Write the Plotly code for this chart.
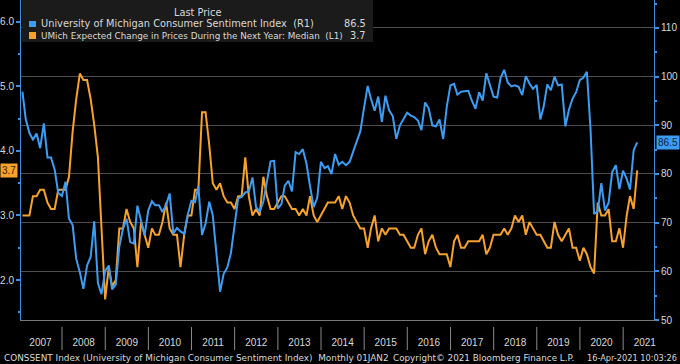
import plotly.graph_objects as go
import pandas as pd

# ---------------- data ----------------
sentiment_name = "University of Michigan Consumer Sentiment Index  (R1)"
infl_name = "UMich Expected Change in Prices During the Next Year: Median  (L1)"

sentiment = [
    96.9, 91.3, 88.4, 87.1, 88.3, 85.3, 90.4, 83.4, 83.4, 80.9, 76.1, 75.5,   # 2007
    78.4, 70.8, 69.5, 62.6, 59.8, 56.4, 61.2, 63.0, 70.3, 57.6, 55.3, 60.1,   # 2008
    61.2, 56.3, 57.3, 65.1, 68.7, 70.8, 66.0, 65.7, 73.5, 70.6, 67.4, 72.5,   # 2009
    74.4, 73.6, 73.6, 72.2, 73.6, 76.0, 67.8, 68.9, 68.2, 67.7, 71.6, 74.5,   # 2010
    74.2, 77.5, 67.5, 69.8, 74.3, 71.5, 63.7, 55.8, 59.5, 60.8, 63.7, 69.9,   # 2011
    75.0, 75.3, 76.2, 76.4, 79.3, 73.2, 72.3, 74.3, 78.3, 82.6, 82.7, 72.9,   # 2012
    73.8, 77.6, 78.6, 76.4, 84.5, 84.1, 85.1, 82.1, 77.5, 73.2, 75.1, 82.5,   # 2013
    81.2, 81.6, 80.0, 84.1, 81.9, 82.5, 81.8, 82.5, 84.6, 86.9, 88.8, 93.6,   # 2014
    98.1, 95.4, 93.0, 95.9, 90.7, 96.1, 93.1, 91.9, 87.2, 90.0, 91.3, 92.6,   # 2015
    92.0, 91.7, 91.0, 89.0, 94.7, 93.5, 90.0, 89.8, 91.2, 87.2, 93.8, 98.2,   # 2016
    98.5, 96.3, 96.9, 97.0, 97.1, 95.1, 93.4, 96.8, 95.1, 100.7, 98.5, 95.9,  # 2017
    95.7, 99.7, 101.4, 98.8, 98.0, 98.2, 97.9, 96.2, 100.1, 98.6, 97.5, 98.3, # 2018
    91.2, 93.8, 98.4, 97.2, 100.0, 98.2, 98.4, 89.8, 93.2, 95.5, 96.8, 99.3,  # 2019
    99.8, 101.0, 89.1, 71.8, 72.3, 78.1, 72.5, 74.1, 80.4, 81.8, 76.9, 80.7,  # 2020
    79.0, 76.8, 84.9, 86.5,                                                   # 2021
]

infl_exp = [
    3.0, 3.0, 3.0, 3.3, 3.3, 3.4, 3.4, 3.2, 3.1, 3.1, 3.4, 3.4,   # 2007
    3.4, 3.6, 4.3, 4.8, 5.2, 5.1, 5.1, 4.8, 4.4, 3.9, 2.8, 1.7,   # 2008
    2.2, 1.9, 2.0, 2.8, 2.8, 3.1, 2.9, 2.8, 2.2, 2.9, 2.7, 2.5,   # 2009
    2.8, 2.7, 2.7, 2.9, 3.2, 2.8, 2.7, 2.7, 2.2, 2.7, 3.0, 3.0,   # 2010
    3.4, 3.4, 4.6, 4.6, 4.1, 3.5, 3.4, 3.5, 3.3, 3.2, 3.2, 3.1,   # 2011
    3.3, 3.3, 3.9, 3.3, 3.0, 3.1, 3.0, 3.6, 3.3, 3.1, 3.1, 3.2,   # 2012
    3.3, 3.3, 3.2, 3.1, 3.1, 3.0, 3.1, 3.0, 3.3, 3.0, 2.9, 3.0,   # 2013
    3.1, 3.2, 3.2, 3.2, 3.3, 3.1, 3.3, 3.2, 3.0, 2.9, 2.8, 2.8,   # 2014
    2.5, 2.8, 3.0, 2.6, 2.8, 2.7, 2.8, 2.8, 2.8, 2.7, 2.7, 2.6,   # 2015
    2.5, 2.5, 2.7, 2.8, 2.4, 2.6, 2.7, 2.5, 2.4, 2.4, 2.4, 2.2,   # 2016
    2.6, 2.7, 2.5, 2.5, 2.6, 2.6, 2.6, 2.6, 2.7, 2.4, 2.5, 2.7,   # 2017
    2.7, 2.7, 2.8, 2.7, 2.8, 3.0, 2.9, 3.0, 2.7, 2.9, 2.8, 2.7,   # 2018
    2.7, 2.6, 2.5, 2.5, 2.9, 2.7, 2.6, 2.7, 2.8, 2.5, 2.5, 2.3,   # 2019
    2.5, 2.4, 2.2, 2.1, 3.2, 3.0, 3.0, 3.1, 2.6, 2.6, 2.8, 2.5,   # 2020
    3.0, 3.3, 3.1, 3.7,                                           # 2021
]

start_month = "2007-01-01"
years = list(range(2007, 2022))
footer_left = "CONSSENT Index (University of Michigan Consumer Sentiment Index)  Monthly 01JAN2"
footer_mid = "Copyright\u00a9 2021 Bloomberg Finance L.P."
footer_right = "16-Apr-2021 10:03:26"

# ---------------- styling ----------------
BLUE = "#3d9df3"
ORANGE = "#f7a22c"
AXIS_BLUE = "#3f8fe0"
GRID = "#4d4d4d"
TXT = "#d9d9d9"
FONT = "Liberation Sans"
TFONT = "DejaVu Sans"

W, H = 680, 364
L, R, T, B = 21, 26, 0, 44
PW, PH = W - L - R, H - T - B


def px(x):
    return (x - L) / PW


def py(y):
    return (H - B - y) / PH


def tf(size):
    return dict(family=TFONT, size=size, color=TXT)


dates = pd.date_range(start_month, periods=len(sentiment), freq="MS") + pd.offsets.MonthEnd(0)

fig = go.Figure()
fig.add_trace(go.Scatter(x=dates, y=sentiment, yaxis="y2", mode="lines",
                         line=dict(color=BLUE, width=2), name=sentiment_name))
fig.add_trace(go.Scatter(x=dates, y=infl_exp, yaxis="y", mode="lines",
                         line=dict(color=ORANGE, width=2), name=infl_name))

shapes = []
# year separators on the date axis
for yr in years[1:]:
    shapes.append(dict(type="line", xref="x", yref="paper",
                       x0=f"{yr}-01-01", x1=f"{yr}-01-01", y0=-0.022, y1=-0.094,
                       line=dict(color="#8a8a8a", width=1)))
# legend box
shapes.append(dict(type="rect", xref="paper", yref="paper", x0=px(22), x1=px(373),
                   y0=py(42), y1=1.0, fillcolor="#1b1b1b", line=dict(width=0), layer="above"))
shapes.append(dict(type="rect", xref="paper", yref="paper", x0=px(29), x1=px(36),
                   y0=py(27), y1=py(21), fillcolor=BLUE, line=dict(width=0), layer="above"))
shapes.append(dict(type="rect", xref="paper", yref="paper", x0=px(29), x1=px(36),
                   y0=py(39), y1=py(32), fillcolor=ORANGE, line=dict(width=0), layer="above"))

ann = [
    dict(text="Last Price", x=px(197), y=py(12.5), xanchor="center", yanchor="middle", font=tf(9.8)),
    dict(text=sentiment_name, x=px(39), y=py(24), xanchor="left", yanchor="middle", font=tf(9.8)),
    dict(text=infl_name, x=px(39), y=py(35.5), xanchor="left", yanchor="middle", font=tf(8.8)),
    dict(text=f"{sentiment[-1]:.1f}", x=px(368), y=py(24), xanchor="right", yanchor="middle", font=tf(9.8)),
    dict(text=f"{infl_exp[-1]:.1f}", x=px(368), y=py(35.5), xanchor="right", yanchor="middle", font=tf(9.8)),
    dict(text=footer_left, x=px(2), y=py(357.5), xanchor="left", yanchor="middle", font=tf(8.9)),
    dict(text=footer_mid, x=px(391), y=py(357.5), xanchor="left", yanchor="middle", font=tf(8.8)),
    dict(text=footer_right, x=px(679), y=py(357.5), xanchor="right", yanchor="middle", font=tf(8.2)),
]
for a in ann:
    a.update(xref="paper", yref="paper", showarrow=False)

# last value tags on the axes
ann.append(dict(text=f"{sentiment[-1]:.1f}", xref="paper", yref="y2", x=px(656), y=sentiment[-1],
                xanchor="left", yanchor="middle", showarrow=False, bgcolor=BLUE, borderpad=1,
                font=dict(family=FONT, size=10, color="#0b2340")))
ann.append(dict(text=f"{infl_exp[-1]:.1f}", xref="paper", yref="y", x=px(0), y=infl_exp[-1],
                xanchor="left", yanchor="middle", showarrow=False, bgcolor=ORANGE, borderpad=1,
                font=dict(family=FONT, size=10, color="#3a2000")))

tickfont = dict(family=FONT, size=10, color=TXT)
fig.update_layout(
    width=W, height=H,
    margin=dict(l=L, r=R, t=T, b=B, pad=0),
    paper_bgcolor="#000000", plot_bgcolor="#000000",
    showlegend=False,
    shapes=shapes, annotations=ann,
    xaxis=dict(type="date", range=["2007-01-19", "2021-09-19"],
               tick0="2007-01-01", dtick="M12", tickformat="%Y", ticklabelmode="period",
               ticks="outside", ticklen=13, tickcolor="rgba(0,0,0,0)",
               showline=True, linecolor="#777777", linewidth=1,
               showgrid=False, zeroline=False, tickfont=tickfont),
    yaxis=dict(range=[1.38, 6.34], side="left", tick0=0, dtick=1, tickformat=".1f",
               ticks="outside", ticklen=4, tickcolor=AXIS_BLUE, tickwidth=2,
               minor=dict(dtick=0.5, ticks="outside", ticklen=2, tickcolor=AXIS_BLUE),
               showline=True, linecolor=AXIS_BLUE, linewidth=1,
               showgrid=False, zeroline=False, tickfont=tickfont),
    yaxis2=dict(range=[50, 115.75], side="right", overlaying="y", tick0=0, dtick=10,
                ticks="outside", ticklen=4, tickcolor=AXIS_BLUE, tickwidth=2,
                minor=dict(dtick=5, ticks="outside", ticklen=2, tickcolor=AXIS_BLUE),
                showline=True, linecolor=AXIS_BLUE, linewidth=1,
                showgrid=True, gridcolor=GRID, gridwidth=1,
                zeroline=False, tickfont=tickfont),
)

fig.write_html(
    "out.html",
    config={"displayModeBar": False},
    post_script="document.body.style.margin='0';document.body.style.background='#000';",
)
